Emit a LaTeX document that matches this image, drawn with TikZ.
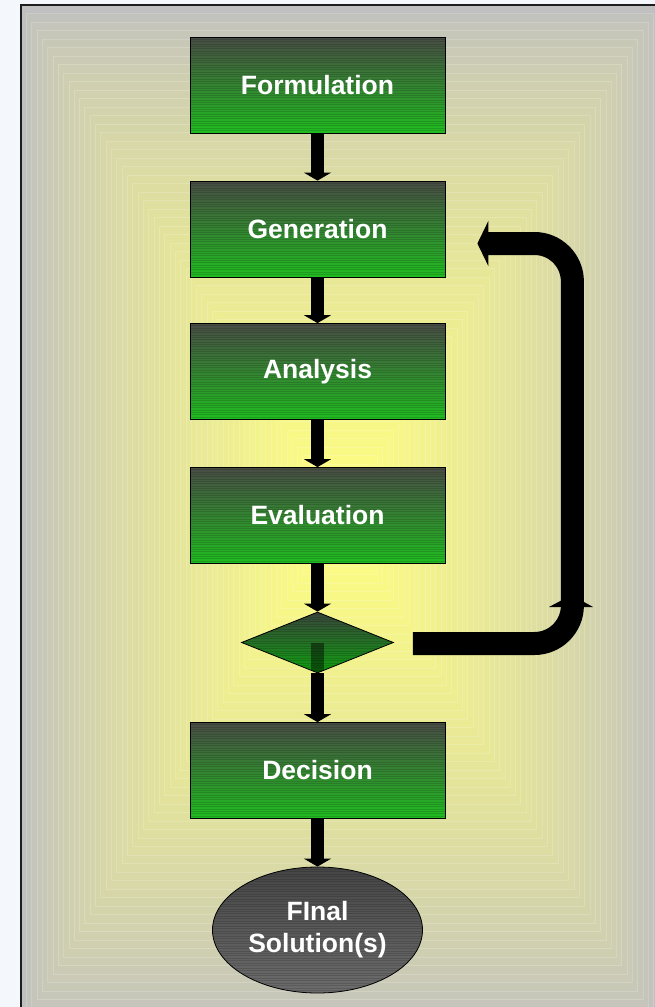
\documentclass[tikz,border=0pt]{standalone}
\usepackage{fontspec}
\setmainfont{Liberation Sans}
\usetikzlibrary{arrows.meta,positioning,calc,shapes.geometric}
\definecolor{Page}{HTML}{F4F7FC}
\definecolor{Edge}{HTML}{C0C0C0}
\definecolor{Glow}{HTML}{FFFF80}
\definecolor{Frame}{HTML}{1E1E1E}
\definecolor{BoxTop}{HTML}{484C44}
\definecolor{BoxBot}{HTML}{20BC20}
\definecolor{DiaTop}{HTML}{38443A}
\definecolor{DiaBot}{HTML}{10A010}
\definecolor{EllTop}{HTML}{454545}
\definecolor{EllBot}{HTML}{6C6C6C}
\newcommand{\hatchlines}[1]{%
  \foreach \k [evaluate=\k as \f using \k/(#1+1)] in {1,...,#1}
    \draw[black,opacity=0.14,line width=1pt]
      ($(path picture bounding box.north west)!\f!(path picture bounding box.south west)$) --
      ($(path picture bounding box.north east)!\f!(path picture bounding box.south east)$);}

\begin{document}
\begin{tikzpicture}[x=1pt,y=-1pt,
  stagebox/.style={draw=black,line width=0.8pt,top color=BoxTop,bottom color=BoxBot,
    minimum width=255pt,minimum height=96pt,inner sep=0pt,text=white,
    font=\bfseries\fontsize{26.5}{32}\selectfont,path picture={\hatchlines{40}}},
  choice/.style={diamond,draw=black,line width=0.8pt,top color=DiaTop,bottom color=DiaBot,
    minimum width=152pt,minimum height=61pt,inner sep=0pt,
    path picture={\hatchlines{24}
      \fill[black,opacity=0.45] ($(path picture bounding box.center)+(-6.5,0)$)
        rectangle ($(path picture bounding box.south)+(6.5,0)$);}},
  endbox/.style={ellipse,draw=black,line width=0.8pt,top color=EllTop,bottom color=EllBot,
    minimum width=210pt,minimum height=126pt,inner sep=0pt,text=white,align=center,
    font=\bfseries\fontsize{26.5}{32}\selectfont,path picture={\hatchlines{50}}},
  flow/.style={-{Triangle[length=8pt,width=27pt]},line width=13pt,black},
  loopback/.style={-{Triangle[length=11pt,width=45pt]},line width=23pt,black,rounded corners=38pt}]
  \clip (0,0) rectangle (655,1007);
  % backdrop
  \fill[Page] (0,0) rectangle (655,1007);
  \foreach \k in {0,...,59}{
    \pgfmathsetmacro\s{1-\k/60}
    \pgfmathsetmacro\t{100*(\k/59)^0.75}
    \fill[Glow!\t!Edge,draw=white,draw opacity=0.18,line width=0.6pt]
      ({340-319*\s},{515-510*\s}) rectangle ({340+319*\s},{515+510*\s});
  }
  \draw[Frame,line width=1.5pt] (21,1010) -- (21,5) -- (660,5);
  % stages
  \node[stagebox] (form) at (317.5,85) {Formulation};
  \node[stagebox] (gen) at (317.5,229) {Generation};
  \node[stagebox] (ana) at (317.5,371.5) {Analysis};
  \node[stagebox] (eva) at (317.5,515.5) {Evaluation};
  \node[choice] (dia) at (317.5,642.5) {};
  \node[stagebox] (dec) at (317.5,770.5) {Decision};
  \node[endbox] (sol) at (317.5,930) {FInal\\Solution(s)};
  \draw[flow] (form.south)--(gen.north);
  \draw[flow] (gen.south)--(ana.north);
  \draw[flow] (ana.south)--(eva.north);
  \draw[flow] (eva.south)--(dia.north);
  \draw[flow] (dia.south)--(dec.north);
  \draw[flow] (dec.south)--(sol.north);
  % feedback loop
  \coordinate (fbstart) at ($(dia.east)+(19,1)$);
  \coordinate (fbend) at ($(gen.east)+(32,14.5)$);
  \draw[loopback] (fbstart) -- ++(159.5,0) |- (fbend);
  \fill[black] (549,607) -- (593,607) -- (571.5,595) -- cycle;
\end{tikzpicture}
\end{document}
